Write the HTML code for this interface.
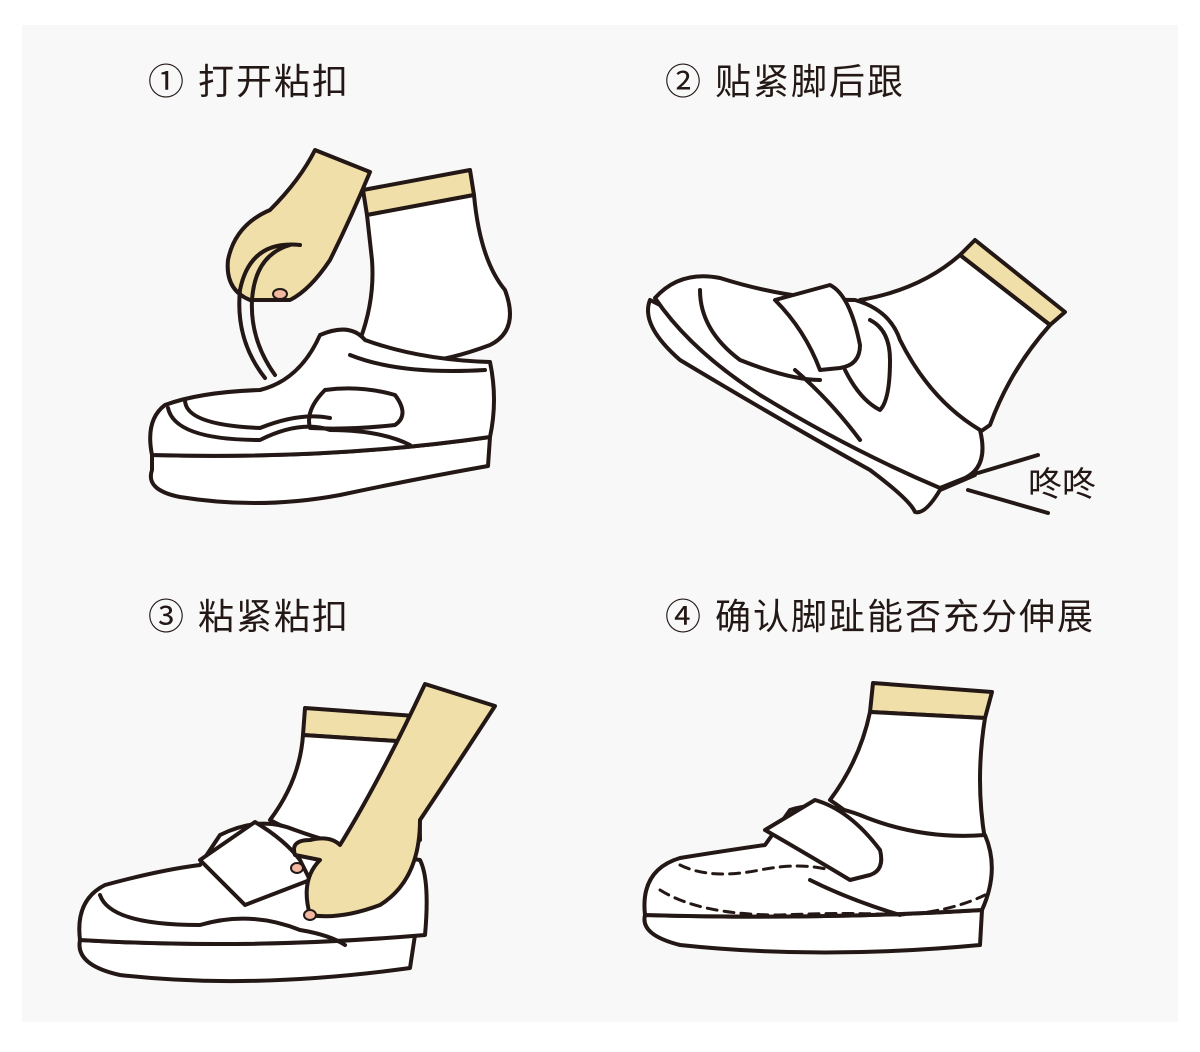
<!DOCTYPE html>
<html><head><meta charset="utf-8"><style>
html,body{margin:0;padding:0;background:#fff;}
svg{display:block}
text{font-family:"Liberation Sans","Noto Sans CJK SC",sans-serif;fill:#231815}
</style></head><body>
<svg width="1200" height="1052" viewBox="0 0 1200 1052" xmlns="http://www.w3.org/2000/svg">
<rect x="22" y="25" width="1156" height="997" fill="#f8f8f8"/>
<g font-size="36" letter-spacing="2">
<text x="148" y="94">① 打开粘扣</text>
<text x="665" y="94">② 贴紧脚后跟</text>
<text x="148" y="629">③ 粘紧粘扣</text>
<text x="665" y="629">④ 确认脚趾能否充分伸展</text>
</g>
<text x="1028" y="496" font-size="34">咚咚</text>
<g fill="none" stroke="#231815" stroke-width="4" stroke-linejoin="round" stroke-linecap="round">
<!-- Panel 1 -->
<path d="M363,190 L470,170 L474,195 L367,215 Z" fill="#f0dfa8"/>
<path d="M367,215 L474,195 Q480,260 505,290 Q520,330 490,345 Q450,360 420,362 L360,340 Q375,300 372,260 Z" fill="#fff"/>
<path d="M315,150 L370,172 Q350,220 330,260 Q310,290 290,300 L250,300 Q225,290 228,260 Q235,225 270,210 Q300,180 315,150 Z" fill="#f0dfa8"/>
<ellipse cx="280" cy="294" rx="7" ry="5" fill="#f2b8a0" stroke-width="2"/>
<path d="M300,245 Q250,240 240,290 Q235,340 265,378" />
<path d="M290,245 Q255,255 252,300 Q250,340 275,375"/>
<path d="M152,470 Q145,490 180,497 Q260,510 340,495 Q420,478 488,466 L490,437 Q330,460 152,455 Z" fill="#fff"/>
<path d="M152,455 Q145,420 165,405 Q200,392 260,390 Q300,380 320,335 Q350,322 365,340 Q420,360 490,362 Q498,400 490,437 Q330,460 152,455 Z" fill="#fff"/>
<path d="M168,408 Q175,440 260,440 Q300,420 330,430 Q380,430 410,445"/>
<path d="M185,400 Q185,425 260,428 Q300,412 330,418"/>
<path d="M350,355 Q400,375 485,370 M325,390 Q360,385 395,395 Q410,415 395,425 Q350,430 310,428 Q305,410 325,390"/>
<!-- Panel 2 -->
<path d="M960,255 L975,240 L1065,312 L1050,325 Z" fill="#f0dfa8"/>
<path d="M960,255 L1050,325 Q1010,370 990,425 L940,460 L900,380 Q880,310 860,300 Q920,290 960,255 Z" fill="#fff"/>
<path d="M650,300 Q640,325 680,360 Q780,420 870,470 Q910,500 915,512 Q925,515 940,490 L975,475 L980,430 Q850,400 760,360 Q690,320 650,300 Z" fill="#fff"/>
<path d="M655,298 Q680,270 720,278 Q790,300 855,300 Q890,310 900,340 Q930,400 980,430 Q990,470 960,480 L940,488 Q850,450 760,395 Q690,350 655,298 Z" fill="#fff"/>
<path d="M700,290 Q700,330 740,360 Q790,380 820,380 M795,370 Q830,400 860,440"/>
<path d="M775,300 L830,285 Q850,295 860,345 Q860,365 840,368 L820,370 Q805,330 775,300 Z" fill="#fff"/>
<path d="M870,320 Q890,330 890,360 Q890,400 880,410 Q860,400 845,370"/>
<path d="M978,473 L1038,455 M968,490 L1048,513"/>
<!-- Panel 3 -->
<path d="M305,708 L415,716 L412,742 L303,735 Z" fill="#f0dfa8"/>
<path d="M303,735 L412,742 Q420,790 420,840 L330,850 Q290,830 270,820 Q300,780 303,735 Z" fill="#fff"/>
<path d="M80,940 Q75,965 120,975 Q250,990 410,968 L415,935 Q250,950 80,940 Z" fill="#fff"/>
<path d="M80,940 Q75,900 105,885 Q160,870 200,865 L220,835 Q260,815 295,830 Q350,850 420,860 Q430,880 425,935 Q250,950 80,940 Z" fill="#fff"/>
<path d="M100,895 Q110,925 200,925 Q250,910 300,930 Q330,935 345,945"/>
<path d="M200,860 L255,822 Q285,840 300,860 L310,880 L245,905 Q215,875 200,860 Z" fill="#fff"/>
<path d="M425,684 L495,706 Q460,760 420,820 Q420,880 380,905 Q340,920 310,915 Q300,880 320,860 L295,855 Q290,840 310,840 Q330,835 340,845 Q380,780 425,684 Z" fill="#f0dfa8"/>
<ellipse cx="297" cy="868" rx="6" ry="5" fill="#f2b8a0" stroke-width="2"/>
<ellipse cx="310" cy="915" rx="6" ry="5" fill="#f2b8a0" stroke-width="2"/>
<!-- Panel 4 -->
<path d="M873,683 L992,692 L985,718 L870,712 Z" fill="#f0dfa8"/>
<path d="M870,712 L985,718 Q975,780 985,840 L890,850 Q860,820 830,800 Q860,760 870,712 Z" fill="#fff"/>
<path d="M645,915 Q640,935 680,945 Q820,960 980,945 L982,910 Q820,920 645,915 Z" fill="#fff"/>
<path d="M645,915 Q640,870 680,858 Q730,850 765,845 L790,810 Q820,800 860,815 Q920,840 985,835 Q1000,870 982,910 Q820,920 645,915 Z" fill="#fff"/>
<path d="M660,890 Q700,915 780,915 Q850,912 900,915 Q950,912 985,895" stroke-dasharray="10,7" stroke-width="3"/>
<path d="M680,865 Q710,880 760,870 Q800,862 830,870" stroke-dasharray="10,7" stroke-width="3"/>
<path d="M765,830 L815,800 Q850,810 880,850 Q885,870 870,875 L850,880 Q800,850 765,830 Z" fill="#fff"/>
<path d="M810,880 Q850,900 900,915"/>
</g>
</svg>
</body></html>
